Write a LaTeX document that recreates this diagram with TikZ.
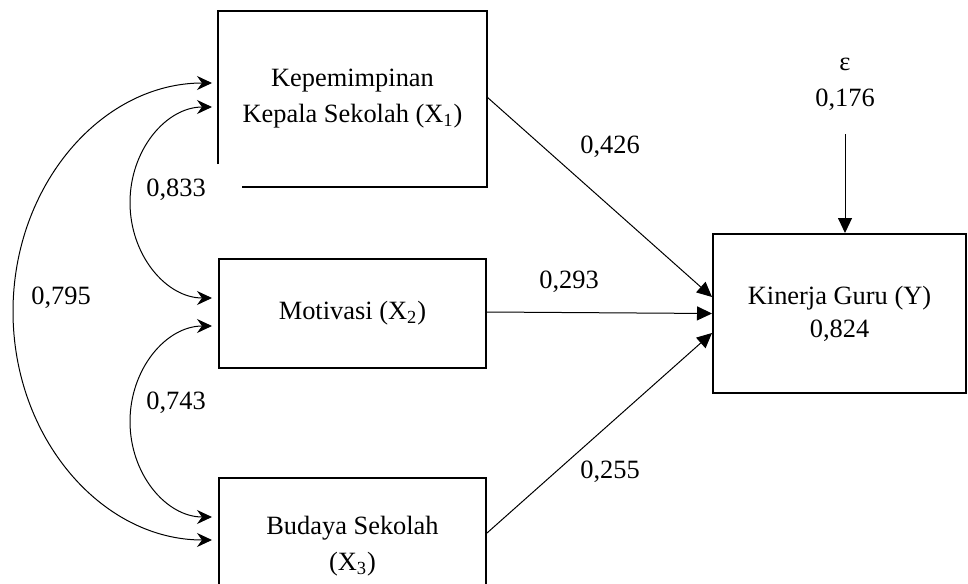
\documentclass[tikz,border=0pt]{standalone}
\usepackage{fontspec}
\setmainfont{Liberation Serif}
\usetikzlibrary{arrows.meta,calc}
\begin{document}
\begin{tikzpicture}[x=0.5pt,y=-0.5pt,
  mybox/.style={draw, line width=1pt, align=center, inner sep=0pt, font=\fontsize{13.2}{18}\selectfont},
  lbl/.style={inner sep=0pt, font=\fontsize{13.2}{16}\selectfont},
  pathline/.style={line width=0.5pt, -{Triangle[length=7.5pt,width=7pt]}},
  corr/.style={line width=0.5pt, {Stealth[length=7.5pt,width=7pt,inset=2.5pt]}-{Stealth[length=7.5pt,width=7pt,inset=2.5pt]}}]
\useasboundingbox (0,0) rectangle (968,583);
\clip (0,0) rectangle (968,583);

% boxes
\node[mybox, draw=none, minimum width=133.5pt, minimum height=87pt] (x1) at (352.5,99) {Kepemimpinan\\Kepala Sekolah (X\textsubscript{1})};
\draw[line width=1pt] ($(x1.south west)+(0,-23)$) -- (x1.north west) -- (x1.north east) -- (x1.south east) -- ($(x1.south west)+(24,0)$);
\node[mybox, minimum width=133.5pt, minimum height=54.5pt] (x2) at (352.5,313.5) {Motivasi (X\textsubscript{2})};
\node[mybox, minimum width=133.5pt, minimum height=68pt] (x3) at (352.5,546) {Budaya Sekolah\\(X\textsubscript{3})};
\node[mybox, minimum width=126.5pt, minimum height=79.5pt] (y) at (839.5,313.5) {Kinerja Guru (Y)\\[-1.5pt]0,824};

% error term
\node[lbl] (eps) at (845,64) {ε};
\node[lbl] (epsv) at (845,100) {0,176};
\draw[pathline] ($(epsv.south)+(0,23)$) -- ($(y.north)+(5.5,0)$);

% paths to Y
\draw[pathline] ($(x1.east)+(0,-2)$) -- ($(y.west)+(0,-16.5)$);
\draw[pathline] ($(x2.east)+(0,-1.5)$) -- (y.west);
\draw[pathline] ($(x3.east)+(0,-13)$) -- ($(y.west)+(0,19.5)$);
\node[lbl] (l426) at (610,147) {0,426};
\node[lbl] (l293) at (569,282) {0,293};
\node[lbl] (l255) at (610,472) {0,255};

% correlations
\coordinate (m833) at (130,202.5);
\coordinate (m743) at (130,421.5);
\coordinate (m795) at (13,311.5);
\draw[corr] ($(x1.west)+(-6,8)$) .. controls +(-45.8,0) and +(0,-52.7) .. (m833)
  .. controls +(0,52.7) and +(-45.8,0) .. ($(x2.west)+(-6,-15.5)$);
\draw[corr] ($(x2.west)+(-6,12.5)$) .. controls +(-45.8,0) and +(0,-52.7) .. (m743)
  .. controls +(0,52.7) and +(-45.8,0) .. ($(x3.west)+(-6,-29)$);
\draw[corr] ($(x1.west)+(-6,-16)$) .. controls +(-110.5,0) and +(0,-126.2) .. (m795)
  .. controls +(0,126.2) and +(-110.5,0) .. ($(x3.west)+(-6,-6)$);
\node[lbl] (l833) at (176,190) {0,833};
\node[lbl] (l743) at (176,403) {0,743};
\node[lbl] (l795) at (61,298) {0,795};
\end{tikzpicture}
\end{document}
